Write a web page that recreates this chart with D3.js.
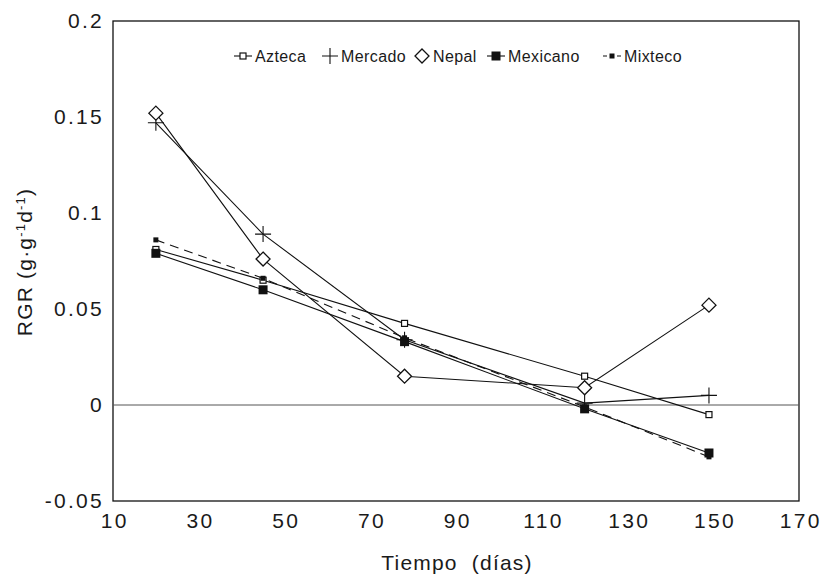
<!DOCTYPE html>
<html><head><meta charset="utf-8">
<script src="https://cdn.jsdelivr.net/npm/d3@7"></script>
<style>body{margin:0;background:#fff;} text{font-family:"Liberation Sans",Arial,sans-serif;fill:#1a1a1a;}</style>
</head><body><svg id="c" width="825" height="575"></svg>
<script>
const days = [20, 45, 78, 120, 149];
const azteca   = [0.081, 0.065, 0.0425, 0.015, -0.005];
const mercado  = [0.147, 0.089, 0.034, 0.001, 0.005];
const nepal    = [0.152, 0.076, 0.015, 0.009, 0.052];
const mexicano = [0.079, 0.060, 0.033, -0.002, -0.025];
const mixteco  = [0.086, 0.066, 0.035, -0.001, -0.027];
const seriesNames = ["Azteca", "Mercado", "Nepal", "Mexicano", "Mixteco"];
const xTicks = [10, 30, 50, 70, 90, 110, 130, 150, 170];
const yTicks = [-0.05, 0, 0.05, 0.1, 0.15, 0.2];
const yTickLabels = ["-0.05", "0", "0.05", "0.1", "0.15", "0.2"];

const svg = d3.select("#c");
const L = 113, R = 799, T = 21, B = 501;
const x = d3.scaleLinear().domain([10, 170]).range([L, R]);
const y = d3.scaleLinear().domain([-0.05, 0.2]).range([B, T]);

// frame
svg.append("rect").attr("x", L).attr("y", T).attr("width", R - L).attr("height", B - T)
  .attr("fill", "none").attr("stroke", "#111").attr("stroke-width", 1.3);
// zero line
svg.append("line").attr("x1", L).attr("x2", R).attr("y1", y(0)).attr("y2", y(0))
  .attr("stroke", "#555").attr("stroke-width", 1);

// axes (labels only)
const yAxis = d3.axisLeft(y).tickValues(yTicks).tickSize(0).tickPadding(9)
  .tickFormat((d, i) => yTickLabels[i]);
const gy = svg.append("g").attr("transform", `translate(${L},0)`).call(yAxis);
gy.select(".domain").remove();
gy.selectAll("text").attr("font-size", 21).attr("letter-spacing", 2.3)
  .attr("font-family", "Liberation Sans").attr("fill", "#1a1a1a");

const xAxis = d3.axisBottom(x).tickValues(xTicks).tickSize(0).tickPadding(12).tickFormat(d3.format("d"));
const gx = svg.append("g").attr("transform", `translate(0,${B})`).call(xAxis);
gx.select(".domain").remove();
gx.selectAll("text").attr("font-size", 21).attr("letter-spacing", 2.3).attr("dx", 1.2)
  .attr("font-family", "Liberation Sans").attr("fill", "#1a1a1a");

// axis titles
svg.append("text").attr("x", 457).attr("y", 570).attr("text-anchor", "middle")
  .attr("font-size", 21).attr("letter-spacing", 1.2).style("white-space", "pre").text("Tiempo  (días)");
const yl = svg.append("text").attr("transform", "translate(32,262) rotate(-90)")
  .attr("text-anchor", "middle").attr("font-size", 21).attr("letter-spacing", 1.2);
yl.append("tspan").text("RGR  (g·g");
yl.append("tspan").attr("baseline-shift", "super").attr("font-size", 13).text("-1");
yl.append("tspan").text("d");
yl.append("tspan").attr("baseline-shift", "super").attr("font-size", 13).text("-1");
yl.append("tspan").text(")");

const data = [azteca, mercado, nepal, mexicano, mixteco];
const line = d3.line().x((d, i) => x(days[i])).y(d => y(d));
const dashes = [null, null, null, null, "9,6"];

function marker(g, k, cx, cy) {
  if (k === 0) g.append("rect").attr("x", cx - 3).attr("y", cy - 3).attr("width", 6).attr("height", 6)
      .attr("fill", "#fff").attr("stroke", "#111").attr("stroke-width", 1.2);
  else if (k === 1) g.append("path").attr("d", `M${cx - 8},${cy}H${cx + 8}M${cx},${cy - 8}V${cy + 8}`)
      .attr("stroke", "#111").attr("stroke-width", 1.1).attr("fill", "none");
  else if (k === 2) g.append("path").attr("d", `M${cx},${cy - 7}L${cx + 7},${cy}L${cx},${cy + 7}L${cx - 7},${cy}Z`)
      .attr("fill", "#fff").attr("stroke", "#111").attr("stroke-width", 1.3);
  else if (k === 3) g.append("rect").attr("x", cx - 4.5).attr("y", cy - 4.5).attr("width", 9).attr("height", 9)
      .attr("fill", "#111");
  else g.append("rect").attr("x", cx - 2.5).attr("y", cy - 2.5).attr("width", 5).attr("height", 5)
      .attr("fill", "#111");
}

data.forEach((s, k) => {
  svg.append("path").attr("d", line(s)).attr("fill", "none").attr("stroke", "#111")
    .attr("stroke-width", 1.1).attr("stroke-dasharray", dashes[k]);
});
data.forEach((s, k) => {
  const g = svg.append("g");
  s.forEach((v, i) => marker(g, k, x(days[i]), y(v)));
});

// legend
const legX = [243, 330, 422, 496, 612];
const legY = 56;
seriesNames.forEach((n, k) => {
  const g = svg.append("g");
  const cx = legX[k];
  if (k === 0 || k === 4 || k === 3) {
    g.append("line").attr("x1", cx - 9).attr("x2", cx + 9).attr("y1", legY).attr("y2", legY)
      .attr("stroke", "#111").attr("stroke-width", 1.1).attr("stroke-dasharray", k === 4 ? "4,3" : null);
  }
  marker(g, k, cx, legY);
  g.append("text").attr("x", cx + (k === 1 ? 11 : k === 2 ? 11 : 12)).attr("y", legY + 6)
    .attr("font-size", 16).attr("letter-spacing", 0.4).text(n);
});
</script></body></html>
